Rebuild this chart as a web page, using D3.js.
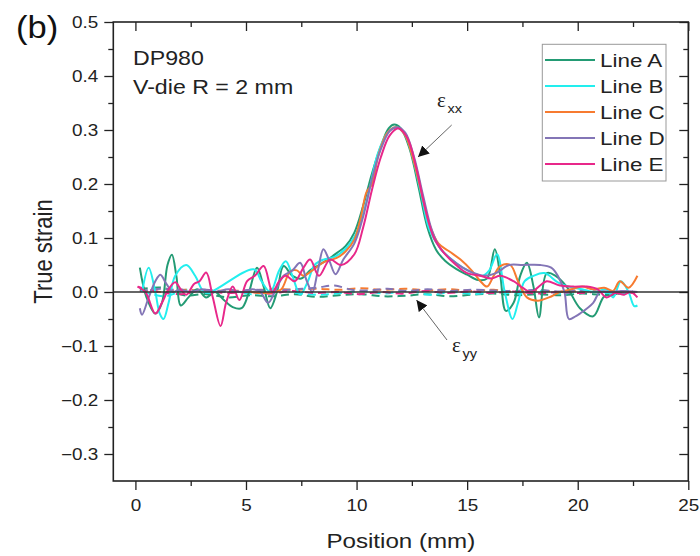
<!DOCTYPE html>
<html><head><meta charset="utf-8">
<script src="https://cdn.jsdelivr.net/npm/d3@7"></script>
<style>body{margin:0;background:#fff}svg{display:block}</style>
</head><body><svg id="c" width="700" height="556"></svg>
<script>
// ---------- data (position mm, true strain) ----------
const seriesNames = ["Line A","Line B","Line C","Line D","Line E"];
const seriesColors = ["#239b74","#22eeee","#f77b30","#8375b6","#e8288a"];
const xTicks = [0,5,10,15,20,25];
const yTicks = [-0.3,-0.2,-0.1,0.0,0.1,0.2,0.3,0.4,0.5];

const exxA = [[0.2,0.045],[0.5,-0.01],[0.9,-0.04],[1.2,-0.02],[1.45,0.05],[1.65,0.069],[1.85,0.03],[2.05,-0.025],[2.4,-0.01],[2.8,0.005],[3.2,-0.01],[3.6,0.0],[4.0,-0.015],[4.4,-0.028],[4.8,-0.03],[5.1,-0.005],[5.5,0.045],[5.8,0.01],[6.1,-0.03],[6.4,0.0],[6.7,0.048],[7.1,0.03],[7.5,0.025],[7.9,0.04],[8.3,0.05],[8.7,0.06],[9.1,0.072],[9.5,0.085],[9.9,0.11],[10.3,0.16],[10.7,0.22],[11.1,0.27],[11.45,0.303],[11.7,0.31],[12.0,0.303],[12.4,0.265],[12.8,0.195],[13.2,0.12],[13.6,0.078],[14.0,0.058],[14.5,0.043],[15.0,0.032],[15.5,0.022],[15.9,0.025],[16.25,0.079],[16.5,0.03],[16.75,-0.035],[17.1,-0.02],[17.4,0.03],[17.7,0.054],[18.0,0.01],[18.25,-0.047],[18.6,0.035],[19.0,0.03],[19.5,0.01],[20.1,-0.03],[20.7,-0.045],[21.2,-0.008],[21.6,-0.005],[22.0,0.0]];
const exxB = [[0.3,0.0],[0.6,0.045],[0.9,0.0],[1.1,-0.04],[1.27,-0.05],[1.5,-0.02],[1.8,0.03],[2.3,0.05],[2.7,0.03],[3.1,0.0],[3.4,0.0],[5.35,0.042],[5.7,0.02],[6.1,0.0],[6.5,0.04],[6.8,0.057],[7.1,0.03],[7.45,-0.005],[7.8,0.02],[8.1,0.05],[8.5,0.06],[9.0,0.065],[9.5,0.08],[10.0,0.11],[10.5,0.175],[10.95,0.255],[11.4,0.295],[11.8,0.305],[12.2,0.29],[12.5,0.255],[12.9,0.185],[13.3,0.115],[13.8,0.08],[14.3,0.06],[14.8,0.045],[15.3,0.035],[15.7,0.03],[16.0,0.04],[16.35,0.07],[16.7,0.0],[17.05,-0.05],[17.3,-0.02],[17.6,0.02],[18.0,0.03],[18.5,0.035],[19.1,0.018],[19.6,0.01],[20.2,0.005],[20.8,0.0],[21.3,0.005],[21.6,-0.01],[21.95,0.02],[22.3,0.0],[22.55,-0.026],[22.7,-0.025]];
const exxC = [[5.2,0.0],[5.8,-0.002],[6.3,0.0],[6.6,0.005],[7.0,0.038],[7.3,0.04],[7.6,0.03],[8.0,0.04],[8.5,0.055],[9.1,0.063],[9.5,0.075],[9.9,0.097],[10.2,0.14],[10.45,0.185],[10.7,0.2],[11.0,0.255],[11.4,0.295],[11.8,0.305],[12.2,0.29],[12.5,0.255],[12.9,0.19],[13.3,0.125],[13.7,0.09],[14.2,0.075],[14.7,0.06],[15.2,0.04],[15.6,0.02],[15.9,0.01],[16.2,0.03],[16.5,0.048],[16.95,0.05],[17.3,0.02],[17.7,-0.01],[18.2,-0.016],[18.7,-0.01],[19.2,0.0],[19.7,0.005],[20.2,0.01],[20.7,0.005],[21.2,0.008],[21.6,0.002],[21.9,0.02],[22.3,0.008],[22.7,0.03]];
const exxD = [[0.2,-0.03],[0.3,-0.042],[0.6,-0.01],[0.9,0.02],[1.13,0.032],[1.4,0.015],[1.7,0.0],[2.0,0.005],[2.5,0.0],[3.0,0.005],[3.6,0.0],[4.2,0.005],[4.8,0.0],[5.3,0.005],[5.65,0.0],[6.0,-0.02],[6.3,0.0],[6.7,0.03],[7.1,0.04],[7.45,0.054],[7.75,0.02],[8.0,0.0],[8.25,0.04],[8.5,0.079],[8.75,0.06],[9.05,0.033],[9.4,0.06],[9.9,0.09],[10.3,0.14],[10.7,0.21],[11.1,0.265],[11.5,0.298],[11.85,0.305],[12.2,0.295],[12.6,0.25],[13.0,0.18],[13.4,0.115],[13.8,0.08],[14.3,0.06],[14.8,0.045],[15.3,0.035],[15.8,0.03],[16.3,0.035],[16.9,0.05],[17.5,0.05],[18.3,0.05],[18.8,0.045],[19.1,0.03],[19.4,0.0],[19.6,-0.05],[19.9,-0.045],[20.1,-0.04],[20.7,-0.02],[21.0,0.0],[21.5,0.0],[22.0,0.002],[22.7,0.0]];
const exxE = [[0.1,0.01],[0.45,0.0],[0.9,-0.04],[1.2,-0.02],[1.5,0.005],[1.8,0.018],[2.05,0.005],[2.3,-0.005],[2.65,0.015],[2.9,0.02],[3.2,0.036],[3.5,-0.01],[3.85,-0.063],[4.1,-0.02],[4.4,0.01],[4.7,-0.015],[5.05,0.02],[5.4,0.03],[5.8,0.048],[6.2,0.0],[6.5,0.02],[6.8,0.03],[7.2,0.02],[7.6,0.045],[7.9,0.06],[8.3,0.03],[8.8,0.06],[9.3,0.05],[9.9,0.07],[10.3,0.12],[10.7,0.19],[11.1,0.25],[11.5,0.29],[11.9,0.303],[12.3,0.285],[12.7,0.23],[13.1,0.155],[13.5,0.1],[14.0,0.07],[14.5,0.05],[15.0,0.035],[15.6,0.03],[16.1,0.025],[16.5,0.03],[17.1,0.02],[17.5,0.008],[17.9,0.0],[18.3,0.012],[18.6,0.02],[19.2,0.012],[19.8,0.01],[20.4,0.01],[20.9,0.005],[21.3,-0.01],[21.7,-0.002],[22.1,-0.005],[22.4,0.0],[22.7,-0.01]];

const eyyA = [[0.2,0.005],[1.2,0.008],[2.2,-0.006],[3.2,-0.004],[4.2,-0.01],[5.2,-0.006],[6.2,-0.008],[7.2,-0.004],[8.2,-0.009],[9.2,-0.006],[10.2,-0.004],[11.2,-0.008],[12.2,-0.007],[13.2,-0.004],[14.2,-0.008],[15.2,-0.005],[16.2,-0.003],[17.2,-0.006],[18.2,-0.004],[19.2,-0.006],[20.2,-0.003],[21.2,-0.005],[22.2,-0.002]];
const eyyB = [[0.3,0.002],[1.3,-0.008],[2.3,0.004],[3.3,-0.002],[4.3,0.002],[5.3,-0.004],[6.3,0.004],[7.3,-0.002],[8.3,-0.005],[9.3,-0.002],[10.3,0.002],[11.3,-0.003],[12.3,0.003],[13.3,-0.005],[14.3,0.0],[15.3,-0.004],[16.3,0.0],[17.3,-0.003],[18.3,0.002],[19.3,-0.003],[20.3,0.002],[21.3,-0.002],[22.5,0.0]];
const eyyC = [[0.2,0.003],[1.2,0.0],[2.2,0.004],[3.2,0.002],[4.2,0.003],[5.2,0.002],[6.2,0.006],[7.2,0.004],[8.2,0.006],[9.2,0.004],[10.2,0.007],[11.2,0.004],[12.2,0.006],[13.2,0.003],[14.2,0.005],[15.2,0.002],[16.2,0.004],[17.2,0.0],[18.2,0.003],[19.2,0.0],[20.2,0.002],[21.2,0.0],[22.5,0.002]];
const eyyD = [[0.2,0.002],[1.2,0.006],[2.2,0.002],[3.2,0.004],[4.2,0.0],[5.2,0.004],[6.2,0.003],[7.2,0.005],[8.2,0.008],[9.0,0.012],[9.8,0.004],[10.6,0.003],[11.4,0.006],[12.2,0.002],[13.2,0.005],[14.2,0.002],[15.2,0.004],[16.2,0.003],[17.2,0.002],[18.2,0.004],[19.2,0.001],[20.2,0.003],[21.2,0.0],[22.5,0.001]];
const eyyE = [[0.1,0.01],[1.1,0.0],[2.1,-0.004],[3.1,0.003],[4.1,-0.002],[5.1,0.0],[6.1,-0.003],[7.1,0.002],[8.1,-0.002],[9.1,0.0],[10.1,-0.004],[11.1,0.0],[12.1,-0.003],[13.1,0.002],[14.1,-0.002],[15.1,0.001],[16.1,-0.002],[17.1,0.001],[18.1,-0.003],[19.1,0.0],[20.1,-0.002],[21.1,0.001],[22.6,-0.002]];

const exxSeries = [exxA, exxB, exxC, exxD, exxE];
const eyySeries = [eyyA, eyyB, eyyC, eyyD, eyyE];

// ---------- layout ----------
const svg = d3.select("#c");
const L = 113.3, R = 688.3, T = 22, B = 481;
const x = d3.scaleLinear().domain([-1, 25]).range([L, R]);
const y = d3.scaleLinear().domain([-0.35, 0.5]).range([B, T]);
const FONT = "'Liberation Sans', Arial, sans-serif";
const fmt = d3.format(".1f");

function txt(parent, px, py, s, size, anchor, sx, fill) {
  return parent.append("text")
    .attr("transform", `translate(${px},${py}) scale(${sx},1)`)
    .attr("font-family", FONT).attr("font-size", size)
    .attr("text-anchor", anchor || "start").attr("fill", fill || "#222")
    .text(s);
}

svg.append("defs").append("clipPath").attr("id", "clip")
  .append("rect").attr("x", L).attr("y", T).attr("width", R - L).attr("height", B - T);

const minorX = d3.range(2.5, 25, 5);
const minorY = d3.range(-0.25, 0.5, 0.1);

// ---------- data lines ----------
const line = d3.line().x(d => x(d[0])).y(d => y(d[1])).curve(d3.curveCatmullRom.alpha(0.5));
const plot = svg.append("g").attr("clip-path", "url(#clip)");
eyySeries.forEach((s, i) => {
  plot.append("path").attr("d", line(s)).attr("fill", "none")
    .attr("stroke", seriesColors[i]).attr("stroke-width", 2)
    .attr("stroke-dasharray", "8,5");
});
exxSeries.forEach((s, i) => {
  plot.append("path").attr("d", line(s)).attr("fill", "none")
    .attr("stroke", seriesColors[i]).attr("stroke-width", 2)
    .attr("stroke-linejoin", "round");
});
// zero line
svg.append("line").attr("x1", L).attr("x2", R).attr("y1", y(0)).attr("y2", y(0))
  .attr("stroke", "#333").attr("stroke-width", 1.6);

// ---------- axes ----------
const axCol = "#222";
const gL = svg.append("g").attr("transform", `translate(${L},0)`)
  .call(d3.axisLeft(y).tickValues(yTicks).tickSize(9).tickFormat(fmt));
gL.selectAll("text").attr("x", null).attr("dy", null)
  .attr("transform", "translate(-15,0) scale(1.18,1)").attr("y", 0).attr("dy", "0.37em");
const gLm = svg.append("g").attr("transform", `translate(${L},0)`)
  .call(d3.axisLeft(y).tickValues(minorY).tickSize(5).tickFormat(""));
const gB = svg.append("g").attr("transform", `translate(0,${B})`)
  .call(d3.axisBottom(x).tickValues(xTicks).tickSize(9).tickFormat(d3.format("d")));
gB.selectAll("text").attr("dy", null).attr("y", null)
  .attr("transform", "translate(0,30) scale(1.18,1)");
const gBm = svg.append("g").attr("transform", `translate(0,${B})`)
  .call(d3.axisBottom(x).tickValues(minorX).tickSize(5).tickFormat(""));
const gT = svg.append("g").attr("transform", `translate(0,${T})`)
  .call(d3.axisBottom(x).tickValues(xTicks).tickSize(9).tickFormat(""));
const gTm = svg.append("g").attr("transform", `translate(0,${T})`)
  .call(d3.axisBottom(x).tickValues(minorX).tickSize(5).tickFormat(""));
const gR = svg.append("g").attr("transform", `translate(${R},0)`)
  .call(d3.axisLeft(y).tickValues(yTicks).tickSize(9).tickFormat(""));
const gRm = svg.append("g").attr("transform", `translate(${R},0)`)
  .call(d3.axisLeft(y).tickValues(minorY).tickSize(5).tickFormat(""));
[gL, gLm, gB, gBm, gT, gTm, gR, gRm].forEach(g => {
  g.select(".domain").remove();
  g.selectAll("line").attr("stroke", axCol).attr("stroke-width", 1.3);
  g.selectAll("text").attr("font-family", FONT).attr("font-size", 16).attr("fill", "#222");
});
svg.append("rect").attr("x", L).attr("y", T).attr("width", R - L).attr("height", B - T)
  .attr("fill", "none").attr("stroke", axCol).attr("stroke-width", 1.6);

// axis titles
txt(svg, (L + R) / 2, 548, "Position (mm)", 21, "middle", 1.15);
svg.append("text")
  .attr("transform", `translate(52,${(T + B) / 2}) scale(1.2,1) rotate(-90)`)
  .attr("font-family", FONT).attr("font-size", 22).attr("text-anchor", "middle")
  .attr("fill", "#222").text("True strain");

// panel label and notes
txt(svg, 16, 38, "(b)", 32, "start", 1.08, "#111");
txt(svg, 133, 65, "DP980", 20.5, "start", 1.13);
txt(svg, 133, 94, "V-die R = 2 mm", 20.5, "start", 1.13);

// ---------- legend ----------
const leg = svg.append("g");
leg.append("rect").attr("x", 542.3).attr("y", 44.3).attr("width", 123.7).attr("height", 136.7)
  .attr("fill", "#fff").attr("stroke", "#999").attr("stroke-width", 1);
seriesNames.forEach((n, i) => {
  const yy = 60 + i * 26;
  leg.append("line").attr("x1", 545).attr("x2", 595).attr("y1", yy).attr("y2", yy)
    .attr("stroke", seriesColors[i]).attr("stroke-width", 2.2);
  txt(leg, 600, yy + 7, n, 19, "start", 1.18);
});

// ---------- annotations ----------
const defs = svg.select("defs");
defs.append("marker").attr("id", "ah").attr("viewBox", "0 0 10 10")
  .attr("refX", 10).attr("refY", 5).attr("markerWidth", 11).attr("markerHeight", 11)
  .attr("markerUnits", "userSpaceOnUse").attr("orient", "auto")
  .append("path").attr("d", "M0,0 L10,5 L0,10 Z").attr("fill", "#111");
svg.append("line").attr("x1", 451.7).attr("y1", 125).attr("x2", 418).attr("y2", 157)
  .attr("stroke", "#666").attr("stroke-width", 1).attr("marker-end", "url(#ah)");
svg.append("line").attr("x1", 447).attr("y1", 340).attr("x2", 416.5).attr("y2", 300)
  .attr("stroke", "#666").attr("stroke-width", 1).attr("marker-end", "url(#ah)");

function eps(px, py, sub) {
  svg.append("text").attr("x", px).attr("y", py)
    .attr("font-family", "'Liberation Serif', 'Times New Roman', serif")
    .attr("font-size", 21).attr("fill", "#222").text("ε");
  txt(svg, px + 10.5, py + 6, sub, 13, "start", 1.12);
}
eps(437, 107, "xx");
eps(452, 352, "yy");
</script>
</body></html>
